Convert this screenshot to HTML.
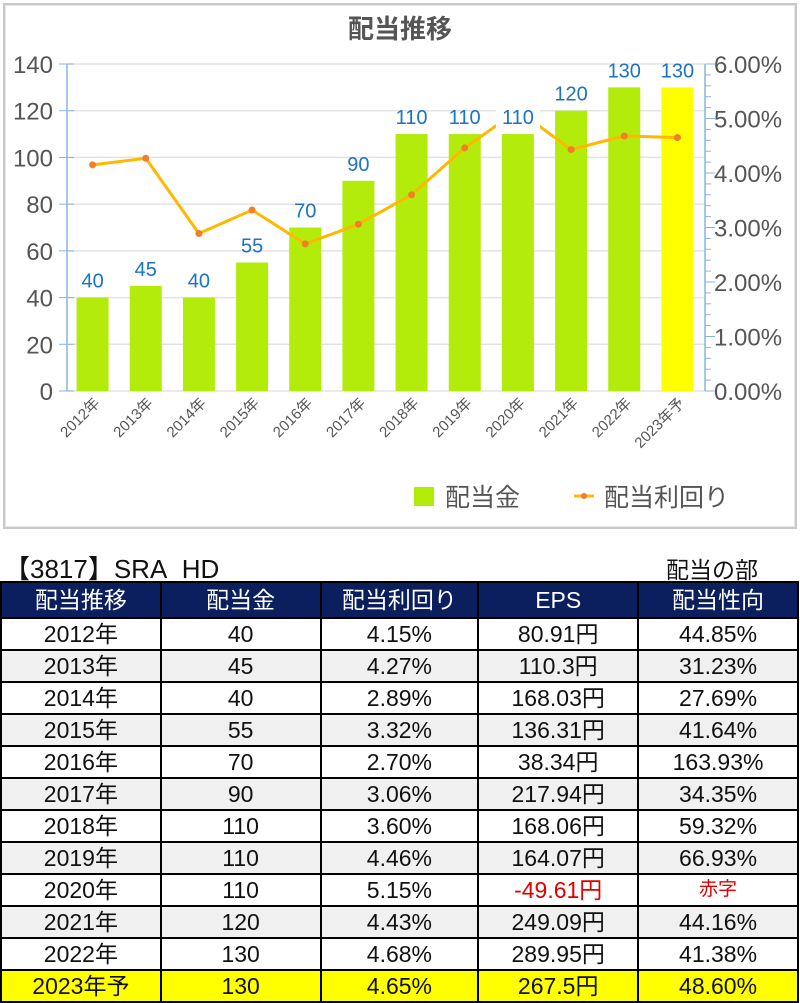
<!DOCTYPE html>
<html><head><meta charset="utf-8">
<style>
body{margin:0;width:800px;height:1001px;background:#fff;overflow:hidden;font-family:"Liberation Sans","Noto Sans CJK JP",sans-serif;}
#chartbox{position:absolute;left:3px;top:3px;width:790px;height:522px;border:2px solid #c8c8c8;box-shadow:inset 0 0 0 1px #e6e6e6;}
svg text{font-family:"Liberation Sans","Noto Sans CJK JP",sans-serif;}
#title2{position:absolute;left:4px;top:549px;font-size:26px;color:#111;}
#bu{position:absolute;left:666px;top:551px;font-size:23px;color:#111;}
table{position:absolute;left:0;top:581px;border-collapse:collapse;width:799px;}
tr{height:32px;}
tr.h{height:36px;}
td,th{border:2px solid #000;padding:0;text-align:center;font-size:23px;font-weight:normal;color:#111;line-height:26px;}
th{background:#0b1f5e;color:#fff;}
tr.g td{background:#f0f0f0;}
tr.y td{background:#ffff00;}
td.red{color:#e00000;}
</style></head><body>
<div id="chartbox"></div>
<svg id="chart" width="800" height="530" style="position:absolute;left:0;top:0">
<text x="400" y="38" text-anchor="middle" font-size="26" font-weight="bold" fill="#555">配当推移</text>
<g id="grid"></g><g id="bars"></g><g id="axes"></g><g id="line"></g><g id="labels"></g>
<g>
<rect x="414" y="487" width="20" height="19" fill="#b3ec0a"/>
<text x="445" y="506" font-size="25" fill="#555">配当金</text>
<line x1="574" y1="496" x2="594" y2="496" stroke="#ffb800" stroke-width="3"/>
<circle cx="584" cy="496" r="3" fill="#f07f2a"/>
<text x="604" y="506" font-size="25" fill="#555">配当利回り</text>
</g>
</svg>
<div id="title2">【3817】SRA&nbsp;&nbsp;HD</div>
<div id="bu">配当の部</div>
<table>
<colgroup><col style="width:160px"><col style="width:160px"><col style="width:158px"><col style="width:160px"><col style="width:160px"></colgroup>
<tr class="h"><th>配当推移</th><th>配当金</th><th>配当利回り</th><th>EPS</th><th>配当性向</th></tr>
<tr><td>2012年</td><td>40</td><td>4.15%</td><td>80.91円</td><td>44.85%</td></tr>
<tr class="g"><td>2013年</td><td>45</td><td>4.27%</td><td>110.3円</td><td>31.23%</td></tr>
<tr><td>2014年</td><td>40</td><td>2.89%</td><td>168.03円</td><td>27.69%</td></tr>
<tr class="g"><td>2015年</td><td>55</td><td>3.32%</td><td>136.31円</td><td>41.64%</td></tr>
<tr><td>2016年</td><td>70</td><td>2.70%</td><td>38.34円</td><td>163.93%</td></tr>
<tr class="g"><td>2017年</td><td>90</td><td>3.06%</td><td>217.94円</td><td>34.35%</td></tr>
<tr><td>2018年</td><td>110</td><td>3.60%</td><td>168.06円</td><td>59.32%</td></tr>
<tr class="g"><td>2019年</td><td>110</td><td>4.46%</td><td>164.07円</td><td>66.93%</td></tr>
<tr><td>2020年</td><td>110</td><td>5.15%</td><td class="red">-49.61円</td><td class="red" style="font-size:19px">赤字</td></tr>
<tr class="g"><td>2021年</td><td>120</td><td>4.43%</td><td>249.09円</td><td>44.16%</td></tr>
<tr><td>2022年</td><td>130</td><td>4.68%</td><td>289.95円</td><td>41.38%</td></tr>
<tr class="y"><td>2023年予</td><td>130</td><td>4.65%</td><td>267.5円</td><td>48.60%</td></tr>
</table>
<script>
const categories=["2012年","2013年","2014年","2015年","2016年","2017年","2018年","2019年","2020年","2021年","2022年","2023年予"];
const dividends=[40,45,40,55,70,90,110,110,110,120,130,130];
const yields=[4.15,4.27,2.89,3.32,2.70,3.06,3.60,4.46,5.15,4.43,4.68,4.65];
const leftTicks=[0,20,40,60,80,100,120,140];
const rightTicks=["0.00%","1.00%","2.00%","3.00%","4.00%","5.00%","6.00%"];
const NS="http://www.w3.org/2000/svg";
const X0=67,X1=705,Y0=391,Y1=64;
const yL=v=>Y0-(v/140)*(Y0-Y1);
const yR=v=>Y0-(v/6)*(Y0-Y1);
const step=(X1-X0)/categories.length;
const xC=i=>X0+step*(i+0.5)-1;
function mk(t,a,p){const e=document.createElementNS(NS,t);for(const k in a)e.setAttribute(k,a[k]);p.appendChild(e);return e;}
const grid=document.getElementById('grid'),axes=document.getElementById('axes'),bars=document.getElementById('bars'),line=document.getElementById('line'),labels=document.getElementById('labels');
leftTicks.forEach(v=>{
 const g=mk('line',{x1:X0,x2:X1,y1:yL(v),y2:yL(v),stroke:'#e3e3e3','stroke-width':1.5},grid);
 
 
 mk('line',{x1:X0-8,x2:X0+7,y1:yL(v),y2:yL(v),stroke:'#8ab4e0'},axes);
 const t=mk('text',{x:X0-14,y:yL(v)+9,'text-anchor':'end','font-size':24,fill:'#555'},axes);t.textContent=v;
 
 
});
mk('line',{x1:X0,x2:X0,y1:Y1,y2:Y0,stroke:'#8ab4e0','stroke-width':1.5},axes);
mk('line',{x1:X1,x2:X1,y1:Y1,y2:Y0,stroke:'#8ab4e0','stroke-width':1.5},axes);
for(let k=0;k<=30;k++){const yy=Y0-k*(Y0-Y1)/30;mk('line',{x1:X1,x2:X1+(k%5==0?10:6),y1:yy,y2:yy,stroke:'#8ab4e0'},axes);}
rightTicks.forEach((s,i)=>{const t=mk('text',{x:714,y:yR(i)+9,'font-size':24,fill:'#555'},axes);t.textContent=s;
 
 });
categories.forEach((c,i)=>{
 const b=mk('rect',{x:xC(i)-16,y:yL(dividends[i]),width:32,height:Y0-yL(dividends[i]),fill:i==categories.length-1?'#ffff00':'#b3ec0a'},bars);
 
 
 const t=mk('text',{x:xC(i)+8,y:404,'text-anchor':'end','font-size':15,fill:'#555',transform:`rotate(-45 ${xC(i)+8} 404)`},axes);t.textContent=c;
 
 
});
mk('polyline',{points:yields.map((v,i)=>xC(i)+','+yR(v)).join(' '),fill:'none',stroke:'#ffb800','stroke-width':3},line);
yields.forEach((v,i)=>{const c=mk('circle',{cx:xC(i),cy:yR(v),r:3.5,fill:'#f07f2a'},line);
 
 });
dividends.forEach((v,i)=>{
 const y=yL(v)-10;
 const r=mk('rect',{x:xC(i)-22,y:y-20,width:44,height:25,fill:'#fff'},labels);
 if(!(Math.abs(yR(yields[i])-(y-8))<22))r.setAttribute('fill','none');
 const t=mk('text',{x:xC(i),y:y,'text-anchor':'middle','font-size':20,fill:'#1a73c4'},labels);t.textContent=v;
 
 
});
</script>
</body></html>
